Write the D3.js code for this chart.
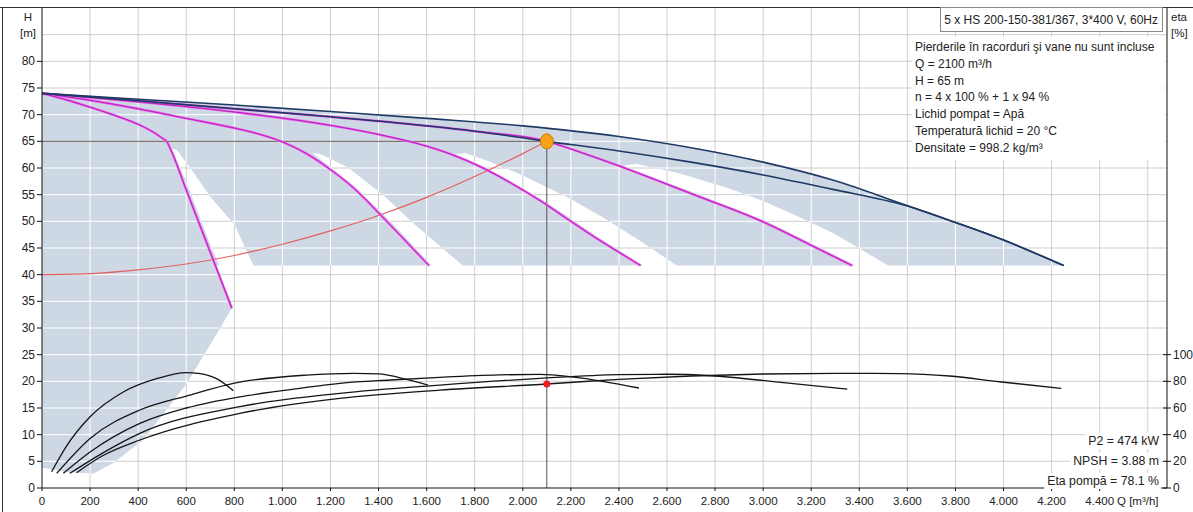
<!DOCTYPE html>
<html>
<head>
<meta charset="utf-8">
<script src="https://cdn.jsdelivr.net/npm/d3@7"></script>
<style>
  body { margin: 0; background: #fff; }
  text { font-family: "Liberation Sans", Arial, sans-serif; fill: #222; }
</style>
</head>
<body>
<svg id="chart" width="1193" height="512"></svg>
<script>
// ---- data ----
const qTicks = [0, 200, 400, 600, 800, 1000, 1200, 1400, 1600, 1800, 2000, 2200, 2400, 2600, 2800, 3000, 3200, 3400, 3600, 3800, 4000, 4200, 4400];
const qTickLabels = ["0", "200", "400", "600", "800", "1.000", "1.200", "1.400", "1.600", "1.800", "2.000", "2.200", "2.400", "2.600", "2.800", "3.000", "3.200", "3.400", "3.600", "3.800", "4.000", "4.200", "4.400"];
const qGrid = [200, 400, 600, 800, 1000, 1200, 1400, 1600, 1800, 2000, 2200, 2400, 2600, 2800, 3000, 3200, 3400, 3600, 3800, 4000, 4200, 4400, 4600];
const hTicks = [0, 5, 10, 15, 20, 25, 30, 35, 40, 45, 50, 55, 60, 65, 70, 75, 80];
const hGrid = [5, 10, 15, 20, 25, 30, 35, 40, 45, 50, 55, 60, 65, 70, 75, 80, 85];
const etaTicks = [0, 20, 40, 60, 80, 100];

// head curves [Q m3/h, H m]
const curve5Max = [[0, 74], [400, 72.9], [800, 71.8], [1200, 70.6], [1600, 69.3], [2000, 67.9], [2400, 65.9], [2700, 63.8], [3000, 61.1], [3300, 57.6], [3589, 53.1], [3800, 49.8], [4000, 46.5], [4250, 41.7]];
const curve5Duty = [[0, 74], [400, 72.6], [800, 71.1], [1200, 69.6], [1600, 67.9], [1800, 66.9], [2100, 65.0], [2400, 63.2], [2700, 61.1], [3000, 58.7], [3300, 55.9], [3589, 53.0], [3800, 49.8], [4000, 46.5], [4250, 41.7]];
const curve1Pump = [[0, 74], [100, 72.8], [200, 71.4], [300, 69.9], [400, 68.2], [460, 66.8], [500, 65.6], [520, 64.9], [535, 63.5], [600, 55.9], [700, 44.2], [790, 33.7]];
const curve2Pump = [[0, 74], [200, 72.7], [400, 71.1], [600, 69.3], [800, 67.5], [900, 66.4], [1000, 64.9], [1100, 62.7], [1200, 59.7], [1300, 56.1], [1400, 51.6], [1500, 46.9], [1610, 41.7]];
const curve3Pump = [[0, 74], [400, 72.4], [800, 70.5], [1200, 68.0], [1400, 66.3], [1600, 64.1], [1700, 62.6], [1825, 60.2], [1950, 57.2], [2075, 53.8], [2200, 50.0], [2300, 47.0], [2400, 44.2], [2490, 41.7]];
const curve4Pump = [[0, 74], [400, 72.6], [800, 71.1], [1200, 69.6], [1600, 67.9], [1800, 66.9], [2100, 65], [2250, 62.8], [2400, 60.4], [2700, 55.2], [3000, 49.9], [3200, 45.5], [3370, 41.7]];
const systemCurve = [[0, 40], [200, 40.2], [400, 40.9], [600, 42], [800, 43.6], [1000, 45.7], [1200, 48.2], [1400, 51.1], [1600, 54.5], [1800, 58.4], [2000, 62.7], [2100, 65]];

// efficiency curves [Q, eta %]
const eta1Pump = [[40, 12.2], [100, 30.9], [200, 53.4], [340, 72.2], [480, 82.2], [600, 86.6], [650, 86], [726, 82], [796, 73]];
const eta2Pump = [[61, 11], [200, 37.2], [407, 58.5], [615, 69.7], [796, 78.5], [1100, 84.7], [1300, 86], [1400, 85.6], [1516, 81.5], [1606, 77.2]];
const eta3Pump = [[89, 11], [200, 27], [407, 48.5], [600, 60], [823, 68.4], [1000, 73], [1239, 78.5], [1450, 81], [1655, 83], [1900, 84.8], [2071, 85.2], [2212, 83.2], [2483, 75]];
const eta4Pump = [[116, 11], [250, 26], [407, 41], [823, 61], [1239, 71], [1655, 77.2], [2071, 82.2], [2400, 85], [2600, 85.3], [2782, 84.2], [3064, 79.4], [3350, 74.2]];
const eta5Pump = [[144, 11.5], [250, 24], [407, 36], [823, 56], [1239, 67.2], [1655, 73.4], [2100, 78], [2400, 81.5], [2700, 84], [3000, 85.5], [3300, 86], [3568, 85.8], [3775, 84], [3983, 79.7], [4240, 74.7]];

// operating range (shaded) and the gaps between pump counts
const minHead = 41.7;
const lowRange = [[0, 41.7], [727, 41.7], [760, 37.4], [790, 33.7], [711, 27.7], [602, 19.6], [421, 9], [296, 4.7], [215, 2.7], [100, 3], [0, 3.8]];
const gap1 = [[540, 63.6], [600, 57.4], [650, 51.5], [700, 45.6], [738, 41.7], [880, 41.7], [800, 49.4], [700, 54.6], [620, 59.8], [560, 63.4]];
const gap2 = [[1125, 62.8], [1200, 60.2], [1300, 56.6], [1400, 52.2], [1500, 47.6], [1620, 41.7], [1750, 41.7], [1546, 49.6], [1420, 54.9], [1270, 60.2], [1160, 62.6]];
const gap3 = [[1720, 62.6], [1825, 60.5], [1950, 57.5], [2075, 54.2], [2200, 50.5], [2300, 47.4], [2500, 41.7], [2640, 41.7], [2500, 46], [2353, 50.2], [2200, 54.2], [2000, 58.6], [1850, 61.4], [1760, 62.8]];
const gap4 = [[2420, 60.4], [2550, 58.1], [2700, 55.6], [2850, 52.9], [3000, 50.3], [3200, 45.9], [3385, 41.7], [3520, 41.7], [3300, 47.6], [3150, 50.8], [3000, 53.8], [2850, 56.3], [2650, 59], [2470, 60.8]];

const dutyQ = 2100, dutyH = 65, dutyEta = 78;

const titleText = "5 x HS 200-150-381/367, 3*400 V, 60Hz";
const infoLines = ["Pierderile în racorduri şi vane nu sunt incluse", "Q = 2100 m³/h", "H = 65 m", "n = 4 x 100 % + 1 x 94 %", "Lichid pompat = Apă", "Temperatură lichid = 20 °C", "Densitate = 998.2 kg/m³"];
const resultLines = ["P2 = 474 kW", "NPSH = 3.88 m", "Eta pompă = 78.1 %"];

// ---- layout ----
const plotLeft = 42, plotRight = 1167, plotTop = 8, plotBottom = 488;
const svg = d3.select("#chart");

const x = d3.scaleLinear().domain([0, 4680]).range([plotLeft, plotRight]);
const y = d3.scaleLinear().domain([0, 90]).range([plotBottom, plotTop]);
const yEta = d3.scaleLinear().domain([0, 100]).range([y(0), y(25)]);

const line = d3.line().x(d => x(d[0])).y(d => y(d[1])).curve(d3.curveMonotoneX);
const lineEta = d3.line().x(d => x(d[0])).y(d => yEta(d[1])).curve(d3.curveMonotoneX);
const poly = pts => "M" + pts.map(p => x(p[0]) + "," + y(p[1])).join("L") + "Z";

svg.append("rect").attr("width", 1193).attr("height", 512).attr("fill", "#fff");

// grid
const drawGrid = (g, color) => {
  g.selectAll(".gv").data(qGrid).enter().append("line")
    .attr("x1", d => x(d)).attr("x2", d => x(d)).attr("y1", plotTop).attr("y2", plotBottom)
    .attr("stroke", color).attr("stroke-width", 1);
  g.selectAll(".gh").data(hGrid).enter().append("line")
    .attr("x1", plotLeft).attr("x2", plotRight).attr("y1", d => y(d)).attr("y2", d => y(d))
    .attr("stroke", color).attr("stroke-width", 1);
};
drawGrid(svg.append("g"), "#cfcfcf");

// shaded operating range
const shadeD = line(curve5Max) + `L${x(4250)},${y(minHead)}L${x(0)},${y(minHead)}Z`
  + poly(lowRange) + poly(gap1) + poly(gap2) + poly(gap3) + poly(gap4);
svg.append("clipPath").attr("id", "shadeClip")
  .append("path").attr("d", shadeD).attr("clip-rule", "evenodd");
svg.append("path").attr("d", shadeD).attr("fill", "#cdd8e4").attr("fill-rule", "evenodd");
drawGrid(svg.append("g").attr("clip-path", "url(#shadeClip)"), "#ffffff");

// duty lines
svg.append("line").attr("x1", plotLeft).attr("x2", x(dutyQ)).attr("y1", y(dutyH)).attr("y2", y(dutyH))
  .attr("stroke", "#6e5a50").attr("stroke-width", 1);
svg.append("line").attr("x1", x(dutyQ)).attr("x2", x(dutyQ)).attr("y1", y(dutyH)).attr("y2", plotBottom)
  .attr("stroke", "#555").attr("stroke-width", 1);

// system curve
svg.append("path").attr("d", line(systemCurve)).attr("fill", "none")
  .attr("stroke", "#e36060").attr("stroke-width", 1.2);

// pump curves
[curve4Pump, curve3Pump, curve2Pump, curve1Pump].forEach(c => {
  svg.append("path").attr("d", line(c)).attr("fill", "none").attr("stroke", "#f060f0").attr("stroke-width", 2.4);
  svg.append("path").attr("d", line(c)).attr("fill", "none").attr("stroke", "#b021b4").attr("stroke-width", 1);
});
[curve5Max, curve5Duty].forEach(c => {
  svg.append("path").attr("d", line(c)).attr("fill", "none").attr("stroke", "#1f3a64").attr("stroke-width", 1.6);
});

// efficiency curves
[eta1Pump, eta2Pump, eta3Pump, eta4Pump, eta5Pump].forEach(c => {
  svg.append("path").attr("d", lineEta(c)).attr("fill", "none").attr("stroke", "#151515").attr("stroke-width", 1.3);
});

// duty point markers
svg.append("circle").attr("cx", x(dutyQ)).attr("cy", yEta(dutyEta)).attr("r", 3.5).attr("fill", "#ee1c1c");
svg.append("ellipse").attr("cx", x(dutyQ)).attr("cy", y(dutyH)).attr("rx", 6.5).attr("ry", 7.5)
  .attr("fill", "#f7a21b").attr("stroke", "#d07a00").attr("stroke-width", 1);

// frame and axes
svg.append("line").attr("x1", 0).attr("x2", 1193).attr("y1", 7.5).attr("y2", 7.5).attr("stroke", "#333");
svg.append("line").attr("x1", 2.5).attr("x2", 2.5).attr("y1", 7.5).attr("y2", 512).attr("stroke", "#333");
svg.append("line").attr("x1", plotLeft).attr("x2", plotLeft).attr("y1", plotTop).attr("y2", plotBottom).attr("stroke", "#111");
svg.append("line").attr("x1", plotRight).attr("x2", plotRight).attr("y1", plotTop).attr("y2", plotBottom).attr("stroke", "#111");
svg.append("line").attr("x1", plotLeft).attr("x2", plotRight).attr("y1", plotBottom).attr("y2", plotBottom).attr("stroke", "#111");

const yAxis = svg.append("g");
yAxis.selectAll("line").data(hTicks).enter().append("line")
  .attr("x1", plotLeft - 5).attr("x2", plotLeft).attr("y1", d => y(d)).attr("y2", d => y(d)).attr("stroke", "#111");
yAxis.selectAll("text").data(hTicks).enter().append("text")
  .attr("x", plotLeft - 7).attr("y", d => y(d) + 4).attr("text-anchor", "end").attr("font-size", 12).text(d => d);
svg.append("text").attr("x", 28).attr("y", 21).attr("text-anchor", "middle").attr("font-size", 11.5).text("H");
svg.append("text").attr("x", 28).attr("y", 37).attr("text-anchor", "middle").attr("font-size", 11.5).text("[m]");

const xAxis = svg.append("g");
xAxis.selectAll("line").data(qTicks).enter().append("line")
  .attr("x1", d => x(d)).attr("x2", d => x(d)).attr("y1", plotBottom).attr("y2", plotBottom + 3).attr("stroke", "#111");
xAxis.selectAll("text").data(qTicks).enter().append("text")
  .attr("x", d => x(d)).attr("y", plotBottom + 17).attr("text-anchor", "middle").attr("font-size", 11.5)
  .text((d, i) => qTickLabels[i]);
svg.append("text").attr("x", 1117).attr("y", plotBottom + 17).attr("font-size", 11.5).text("Q [m³/h]");

const rAxis = svg.append("g");
rAxis.selectAll("line").data(etaTicks).enter().append("line")
  .attr("x1", plotRight - 4).attr("x2", plotRight + 4).attr("y1", d => yEta(d)).attr("y2", d => yEta(d)).attr("stroke", "#111");
rAxis.selectAll("text").data(etaTicks).enter().append("text")
  .attr("x", plotRight + 6).attr("y", d => yEta(d) + 4).attr("font-size", 12).text(d => d);
svg.append("text").attr("x", 1171).attr("y", 21).attr("font-size", 11.5).text("eta");
svg.append("text").attr("x", 1171).attr("y", 37).attr("font-size", 11.5).text("[%]");

// title box
svg.append("rect").attr("x", 940.5).attr("y", 7.5).attr("width", 222).attr("height", 24)
  .attr("fill", "#fff").attr("stroke", "#888");
svg.append("text").attr("x", 1158).attr("y", 24).attr("text-anchor", "end").attr("font-size", 12).text(titleText);

// info box
svg.append("rect").attr("x", 912).attr("y", 37).attr("width", 253).attr("height", 123).attr("fill", "#fff");
svg.selectAll(".info").data(infoLines).enter().append("text")
  .attr("x", 915).attr("y", (d, i) => 51 + i * 16.8).attr("font-size", 12).text(d => d);

// results, bottom right
const res = svg.append("g");
resultLines.forEach((t, i) => {
  const txt = res.append("text").attr("x", 1159).attr("y", 445 + i * 20).attr("text-anchor", "end")
    .attr("font-size", 12.3).text(t);
  const bb = txt.node().getBBox();
  res.insert("rect", "text").attr("x", bb.x - 3).attr("y", bb.y - 1).attr("width", bb.width + 5)
    .attr("height", bb.height + 2).attr("fill", "#fff");
});
</script>
</body>
</html>
